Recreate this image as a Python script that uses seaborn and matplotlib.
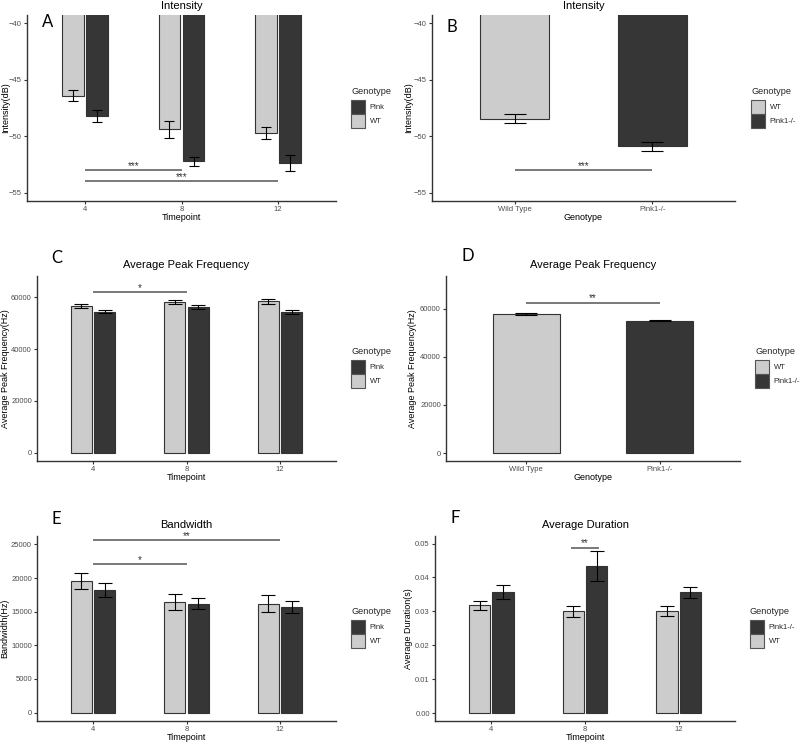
import matplotlib
matplotlib.use("Agg")
import matplotlib.pyplot as plt
from matplotlib.patches import Patch
import seaborn as sns
import pandas as pd

# ---------------- data ----------------
timepoints = ["4", "8", "12"]
tp_genotypes = ["WT", "Pink"]

intensity_wt = [-46.4, -49.4, -49.7]
intensity_wt_se = [0.5, 0.75, 0.55]
intensity_pink = [-48.2, -52.2, -52.4]
intensity_pink_se = [0.55, 0.4, 0.7]

genotypes = ["Wild Type", "Pink1-/-"]
intensity_geno = [-48.45, -50.9]
intensity_geno_se = [0.4, 0.42]

peak_wt = [56500, 58000, 58300]
peak_wt_se = [900, 700, 850]
peak_pink = [54300, 56100, 54200]
peak_pink_se = [600, 700, 900]

peak_geno = [57700, 55000]
peak_geno_se = [350, 300]

bw_wt = [19550, 16450, 16200]
bw_wt_se = [1250, 1130, 1300]
bw_pink = [18200, 16200, 15700]
bw_pink_se = [1000, 800, 900]

dur_wt = [0.0318, 0.0300, 0.0300]
dur_wt_se = [0.0013, 0.0016, 0.0015]
dur_pink = [0.0358, 0.0434, 0.0356]
dur_pink_se = [0.0021, 0.0043, 0.0017]

LIGHT = "#cccccc"
DARK = "#363636"

sns.set_style("ticks")
plt.rcParams["font.family"] = ["Liberation Sans", "DejaVu Sans"]

W, H = 800, 744
fig = plt.figure(figsize=(W / 100, H / 100), dpi=100)


def add_ax(l, r, t, b):
    return fig.add_axes([l / W, 1 - b / H, (r - l) / W, (b - t) / H])


def tp_frame(wt, wt_se, pk, pk_se):
    return pd.DataFrame({
        "Timepoint": timepoints * 2,
        "Genotype": ["WT"] * 3 + ["Pink"] * 3,
        "Value": list(wt) + list(pk),
        "SE": list(wt_se) + list(pk_se),
    })


def geno_frame(vals, se):
    return pd.DataFrame({"Genotype": genotypes, "Value": vals, "SE": se})


def style(ax, title, xlabel, ylabel, ylim, yticks, ylab_x, xlim, yfmt=None,
          title_pad=5.5):
    ax.set_ylim(*ylim)
    ax.set_xlim(*xlim)
    ax.set_yticks(yticks)
    if yfmt:
        ax.set_yticklabels([yfmt.format(v) for v in yticks])
    for s in ["top", "right"]:
        ax.spines[s].set_visible(False)
    for s in ["left", "bottom"]:
        ax.spines[s].set_color("#333333")
        ax.spines[s].set_linewidth(1.0)
    ax.tick_params(axis="both", length=2.2, width=0.8, color="#333333",
                   labelsize=5.5, labelcolor="#4d4d4d", pad=1.5)
    ax.set_title(title, fontsize=8, pad=title_pad, color="black")
    ax.set_xlabel(xlabel, fontsize=6.5, color="black")
    ax.set_ylabel(ylabel, fontsize=6.5, color="black")
    ax.xaxis.set_label_coords(0.5, -0.065)
    ax.yaxis.set_label_coords(ylab_x, 0.5)


def add_errors(ax, order, hue_order, df, xcol, capsize):
    se_map = {(r[xcol], r["Genotype"]): r["SE"] for _, r in df.iterrows()}
    for h, cont in zip(hue_order, ax.containers):
        for p in cont:
            xc = p.get_x() + p.get_width() / 2
            val = p.get_y() + p.get_height()
            cat = order[int(round(xc))]
            if (cat, h) not in se_map:
                continue
            ax.errorbar([xc], [val], yerr=[se_map[(cat, h)]], fmt="none",
                        ecolor="black", elinewidth=0.8, capsize=capsize,
                        capthick=0.8, zorder=5)


def sig(ax, x0, x1, y, text):
    ax.plot([x0, x1], [y, y], color="#555555", lw=1.1, solid_capstyle="butt")
    ax.annotate(text, xy=((x0 + x1) / 2, y), xytext=(0, -0.5),
                textcoords="offset points", ha="center", va="bottom",
                fontsize=7, color="#333333")


def legend(ax, x, y, labels, colors):
    handles = [Patch(facecolor=c, edgecolor="#555555", linewidth=0.8) for c in colors]
    lg = ax.legend(handles, labels, title="Genotype", loc="upper left",
                   bbox_to_anchor=(x / W, 1 - y / H), bbox_transform=fig.transFigure,
                   frameon=False, borderpad=0, borderaxespad=0,
                   handlelength=1.85, handleheight=2.44, labelspacing=0,
                   handletextpad=0.6, fontsize=5.5, title_fontsize=6.6,
                   alignment="left")
    lg._legend_box.sep = 2.5
    return lg


def tp_panel(ax, df, hue_order, palette, capsize):
    sns.barplot(data=df, x="Timepoint", y="Value", hue="Genotype",
                order=timepoints, hue_order=hue_order, palette=palette,
                width=0.5, gap=0.1, errorbar=None, edgecolor="#333333",
                linewidth=0.8, legend=False, ax=ax)
    add_errors(ax, timepoints, hue_order, df, "Timepoint", capsize)


def geno_panel(ax, df, capsize):
    sns.barplot(data=df, x="Genotype", y="Value", hue="Genotype",
                order=genotypes, hue_order=genotypes,
                palette={"Wild Type": LIGHT, "Pink1-/-": DARK},
                width=0.5, errorbar=None, edgecolor="#333333",
                linewidth=0.8, legend=False, ax=ax)
    se_map = dict(zip(df["Genotype"], df["SE"]))
    for p in ax.patches:
        if p.get_width() == 0:
            continue
        xc = p.get_x() + p.get_width() / 2
        val = p.get_y() + p.get_height()
        cat = genotypes[int(round(xc))]
        ax.errorbar([xc], [val], yerr=[se_map[cat]], fmt="none", ecolor="black",
                    elinewidth=0.8, capsize=capsize, capthick=0.8, zorder=5)


# ---------------- Panel A ----------------
axA = add_ax(27, 336, 15, 201)
dfA = tp_frame(intensity_wt, intensity_wt_se, intensity_pink, intensity_pink_se)
tp_panel(axA, dfA, tp_genotypes, {"WT": LIGHT, "Pink": DARK}, 3.6)
style(axA, "Intensity", "Timepoint", "Intensity(dB)", (-55.74, -39.26),
      [-55, -50, -45, -40], -0.055, (-0.6, 2.6), title_pad=4.3)
sig(axA, 0, 1, -53.0, "***")
sig(axA, 0, 2, -54.0, "***")
legend(axA, 351, 87.5, ["Pink", "WT"], [DARK, LIGHT])

# ---------------- Panel B ----------------
axB = add_ax(432, 735, 15, 201)
dfB = geno_frame(intensity_geno, intensity_geno_se)
geno_panel(axB, dfB, 8)
style(axB, "Intensity", "Genotype", "Intensity(dB)", (-55.74, -39.26),
      [-55, -50, -45, -40], -0.063, (-0.6, 1.6), title_pad=4.3)
sig(axB, 0, 1, -53.0, "***")
legend(axB, 751, 87.5, ["WT", "Pink1-/-"], [LIGHT, DARK])

# ---------------- Panel C ----------------
axC = add_ax(37, 336, 276, 461)
dfC = tp_frame(peak_wt, peak_wt_se, peak_pink, peak_pink_se)
tp_panel(axC, dfC, tp_genotypes, {"WT": LIGHT, "Pink": DARK}, 5)
style(axC, "Average Peak Frequency", "Timepoint", "Average Peak Frequency(Hz)",
      (-3100, 68100), [0, 20000, 40000, 60000], -0.09, (-0.6, 2.6))
sig(axC, 0, 1, 61900, "*")
legend(axC, 351, 347.5, ["Pink", "WT"], [DARK, LIGHT])

# ---------------- Panel D ----------------
axD = add_ax(446, 740, 276, 461)
dfD = geno_frame(peak_geno, peak_geno_se)
geno_panel(axD, dfD, 8)
style(axD, "Average Peak Frequency", "Genotype", "Average Peak Frequency(Hz)",
      (-3320, 73540), [0, 20000, 40000, 60000], -0.099, (-0.6, 1.6))
sig(axD, 0, 1, 62400, "**")
legend(axD, 755, 347.5, ["WT", "Pink1-/-"], [LIGHT, DARK])

# ---------------- Panel E ----------------
axE = add_ax(37, 336, 536, 721)
dfE = tp_frame(bw_wt, bw_wt_se, bw_pink, bw_pink_se)
tp_panel(axE, dfE, tp_genotypes, {"WT": LIGHT, "Pink": DARK}, 5)
style(axE, "Bandwidth", "Timepoint", "Bandwidth(Hz)",
      (-1250, 26250), [0, 5000, 10000, 15000, 20000, 25000], -0.092, (-0.6, 2.6))
sig(axE, 0, 2, 25600, "**")
sig(axE, 0, 1, 22100, "*")
legend(axE, 351, 607.5, ["Pink", "WT"], [DARK, LIGHT])

# ---------------- Panel F ----------------
axF = add_ax(435, 735, 536, 721)
dfF = tp_frame(dur_wt, dur_wt_se, dur_pink, dur_pink_se)
tp_panel(axF, dfF, tp_genotypes, {"WT": LIGHT, "Pink": DARK}, 5)
style(axF, "Average Duration", "Timepoint", "Average Duration(s)",
      (-0.00236, 0.05224), [0.0, 0.01, 0.02, 0.03, 0.04, 0.05], -0.073, (-0.6, 2.6),
      yfmt="{:.2f}")
sig(axF, 0.85, 1.15, 0.0488, "**")
legend(axF, 750, 607.5, ["Pink1-/-", "WT"], [DARK, LIGHT])

# ---------------- panel letters ----------------
letters = [("A", 42, 27.3), ("B", 447, 31.7), ("C", 51.5, 263.3),
           ("D", 461, 261), ("E", 51.5, 524), ("F", 450, 522.7)]
for t, x, y in letters:
    fig.text(x / W, 1 - y / H, t, fontsize=12, family=["Lato", "DejaVu Sans"],
             ha="left", va="baseline", color="black")

fig.savefig("out.png", dpi=100)
